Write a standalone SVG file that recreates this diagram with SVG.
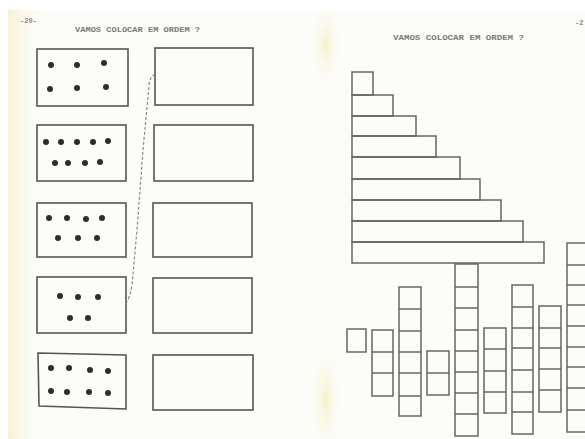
<svg xmlns="http://www.w3.org/2000/svg" width="585" height="439" viewBox="0 0 585 439">
<defs>
<linearGradient id="gutL" x1="0" y1="0" x2="1" y2="0">
<stop offset="0" stop-color="#f9f2d0"/>
<stop offset="1" stop-color="#fcfbf5" stop-opacity="0"/>
</linearGradient>
<radialGradient id="gutM">
<stop offset="0" stop-color="#f8f0cc"/>
<stop offset="1" stop-color="#fcfcf8" stop-opacity="0"/>
</radialGradient>
</defs>
<style>
.box{fill:none;stroke:#555;stroke-width:1.6}
.sq{fill:none;stroke:#666;stroke-width:1.5}
.dot{fill:#2e2e2e}
.title{font-family:"Liberation Mono",monospace;font-size:8px;font-weight:bold;fill:#7a7a7a}
.pg{font-family:"Liberation Mono",monospace;font-size:7px;font-weight:bold;fill:#8a8a80}
.dash{fill:none;stroke:#888;stroke-width:1.2;stroke-dasharray:3 2}
</style>
<rect x="0" y="0" width="585" height="439" fill="#ffffff"/>
<rect x="8" y="10" width="577" height="429" fill="#fcfcf8"/>
<rect x="8" y="10" width="35" height="429" fill="url(#gutL)"/>
<ellipse cx="326" cy="45" rx="16" ry="45" fill="url(#gutM)"/>
<ellipse cx="326" cy="400" rx="16" ry="60" fill="url(#gutM)"/>

<g id="texts">
<text class="pg" x="20" y="23">-20-</text>
<text class="title" x="75" y="32" textLength="125" lengthAdjust="spacingAndGlyphs">VAMOS COLOCAR EM ORDEM ?</text>
<text class="title" x="393" y="40" textLength="131" lengthAdjust="spacingAndGlyphs">VAMOS COLOCAR EM ORDEM ?</text>
<text class="pg" x="575" y="25">-2</text>
</g>

<g id="dots6">
<rect class="box" x="37" y="49" width="91" height="57"/>
<circle class="dot" cx="51" cy="65" r="3"/><circle class="dot" cx="77" cy="65" r="3"/><circle class="dot" cx="104" cy="63" r="3"/>
<circle class="dot" cx="50" cy="89" r="3"/><circle class="dot" cx="77" cy="88" r="3"/><circle class="dot" cx="106" cy="87" r="3"/>
</g>
<g id="dots9">
<rect class="box" x="37" y="125" width="89" height="56"/>
<circle class="dot" cx="46" cy="142" r="3"/><circle class="dot" cx="61" cy="142" r="3"/><circle class="dot" cx="77" cy="142" r="3"/><circle class="dot" cx="93" cy="142" r="3"/><circle class="dot" cx="108" cy="141" r="3"/>
<circle class="dot" cx="55" cy="163" r="3"/><circle class="dot" cx="68" cy="163" r="3"/><circle class="dot" cx="85" cy="163" r="3"/><circle class="dot" cx="100" cy="162" r="3"/>
</g>
<g id="dots7">
<rect class="box" x="37" y="203" width="89" height="54"/>
<circle class="dot" cx="49" cy="218" r="3"/><circle class="dot" cx="67" cy="218" r="3"/><circle class="dot" cx="86" cy="219" r="3"/><circle class="dot" cx="102" cy="218" r="3"/>
<circle class="dot" cx="58" cy="238" r="3"/><circle class="dot" cx="78" cy="238" r="3"/><circle class="dot" cx="97" cy="238" r="3"/>
</g>
<g id="dots5">
<rect class="box" x="37" y="277" width="89" height="56"/>
<circle class="dot" cx="60" cy="296" r="3"/><circle class="dot" cx="78" cy="297" r="3"/><circle class="dot" cx="98" cy="297" r="3"/>
<circle class="dot" cx="70" cy="318" r="3"/><circle class="dot" cx="88" cy="318" r="3"/>
</g>
<g id="dots8">
<polygon class="box" points="38,353 126,355 126,409 39,406"/>
<circle class="dot" cx="51" cy="368" r="3"/><circle class="dot" cx="69" cy="368" r="3"/><circle class="dot" cx="90" cy="370" r="3"/><circle class="dot" cx="108" cy="371" r="3"/>
<circle class="dot" cx="51" cy="391" r="3"/><circle class="dot" cx="67" cy="392" r="3"/><circle class="dot" cx="89" cy="392" r="3"/><circle class="dot" cx="108" cy="393" r="3"/>
</g>

<g id="answer1"><rect class="box" x="155" y="48" width="98" height="57"/></g>
<g id="answer2"><rect class="box" x="154" y="125" width="99" height="56"/></g>
<g id="answer3"><rect class="box" x="153" y="203" width="99" height="54"/></g>
<g id="answer4"><rect class="box" x="153" y="278" width="99" height="55"/></g>
<g id="answer5"><rect class="box" x="153" y="355" width="100" height="55"/></g>

<g id="connectors">
<path class="dash" d="M155,74 Q149,78 149,86 L143,150 L137,230 L132,285 Q130,298 126,303"/>
</g>

<g id="staircase">
<rect class="sq" x="352" y="72" width="21" height="23"/>
<rect class="sq" x="352" y="95" width="41" height="21"/>
<rect class="sq" x="352" y="116" width="64" height="20"/>
<rect class="sq" x="352" y="136" width="84" height="21"/>
<rect class="sq" x="352" y="157" width="108" height="22"/>
<rect class="sq" x="352" y="179" width="128" height="21"/>
<rect class="sq" x="352" y="200" width="149" height="21"/>
<rect class="sq" x="352" y="221" width="171" height="21"/>
<rect class="sq" x="352" y="242" width="192" height="21"/>
</g>

<g id="col1"><rect class="sq" x="347" y="329" width="19" height="23"/></g>
<g id="col3"><rect class="sq" x="372" y="330" width="21" height="66"/><path class="sq" d="M372,352H393M372,373H393"/></g>
<g id="col6"><rect class="sq" x="399" y="287" width="22" height="129"/><path class="sq" d="M399,309H421M399,331H421M399,352H421M399,373H421M399,396H421"/></g>
<g id="col2"><rect class="sq" x="427" y="351" width="22" height="44"/><path class="sq" d="M427,373H449"/></g>
<g id="col8"><rect class="sq" x="455" y="264" width="23" height="172"/><path class="sq" d="M455,287H478M455,308H478M455,330H478M455,351H478M455,372H478M455,393H478M455,414H478"/></g>
<g id="col4"><rect class="sq" x="484" y="328" width="22" height="85"/><path class="sq" d="M484,349H506M484,371H506M484,392H506"/></g>
<g id="col7"><rect class="sq" x="512" y="285" width="21" height="149"/><path class="sq" d="M512,307H533M512,328H533M512,348H533M512,370H533M512,392H533M512,412H533"/></g>
<g id="col5"><rect class="sq" x="539" y="306" width="22" height="106"/><path class="sq" d="M539,328H561M539,348H561M539,369H561M539,390H561"/></g>
<g id="col9"><rect class="sq" x="567" y="243" width="30" height="189"/><path class="sq" d="M567,265H590M567,285H590M567,305H590M567,326H590M567,347H590M567,367H590M567,388H590M567,410H590"/></g>
</svg>
